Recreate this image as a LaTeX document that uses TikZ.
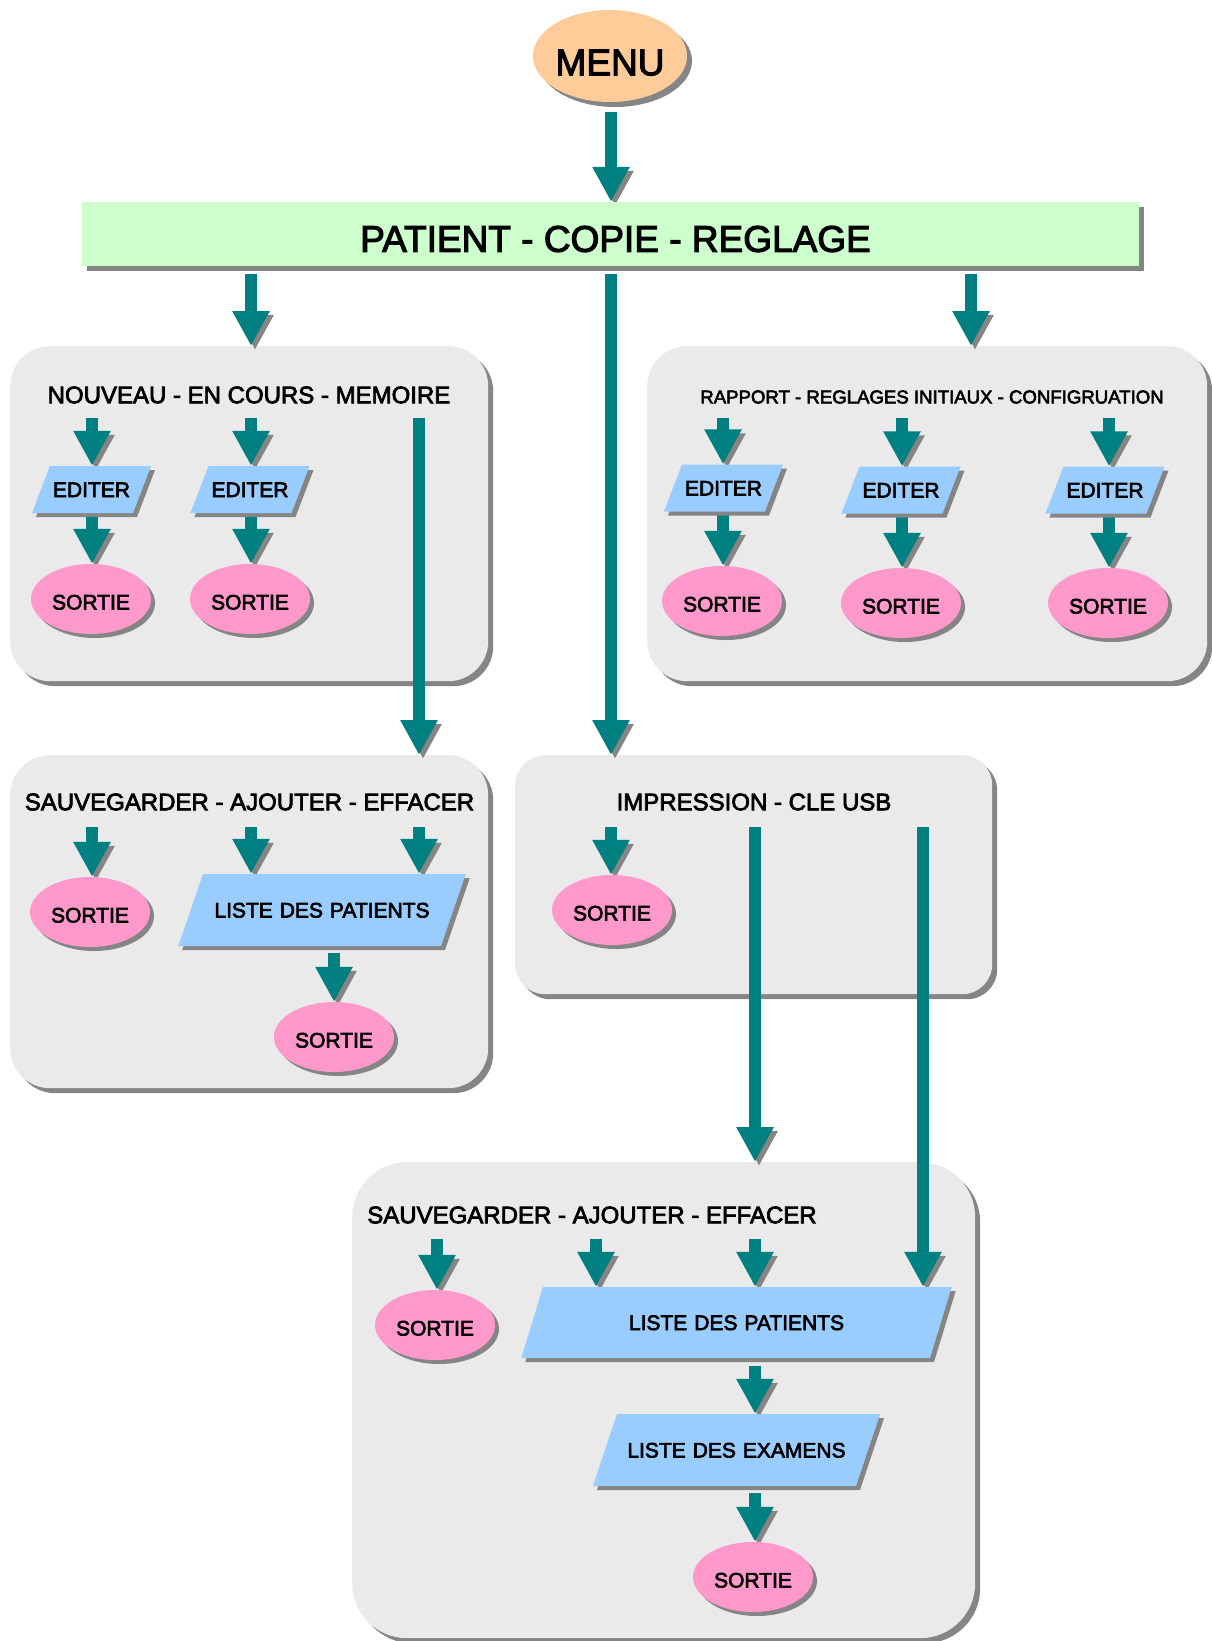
\documentclass[tikz,border=0pt]{standalone}
\usepackage{fontspec}
\setmainfont{Liberation Sans}[FakeBold=3]
\usetikzlibrary{arrows.meta,shapes.geometric,shadows}
\definecolor{arrowteal}{HTML}{008080}
\definecolor{shade}{HTML}{858585}
\definecolor{panelgray}{HTML}{EAEAEA}
\definecolor{barfill}{HTML}{CCFFCC}
\definecolor{menufill}{HTML}{FFCC99}
\definecolor{exitfill}{HTML}{FF99CC}
\definecolor{parafill}{HTML}{99CCFF}
\pgfdeclarelayer{panels}
\pgfdeclarelayer{flows}
\pgfsetlayers{panels,flows,main}
\tikzset{
  shadowed/.style={drop shadow={shadow xshift=#1, shadow yshift=-#1, fill=shade, opacity=1}},
  panel/.style={draw=none, fill=panelgray, rounded corners=#1, shadowed=5pt, inner sep=0pt, anchor=north west},
  menunode/.style={ellipse, fill=menufill, minimum width=144pt, minimum height=92pt, inner sep=0pt,
    shadowed=5pt, font=\fontsize{37}{42}\selectfont, text height=38.5pt, text depth=0pt},
  barnode/.style={rectangle, fill=barfill, minimum width=1057pt, minimum height=64pt, inner sep=0pt,
    shadowed=5pt, font=\fontsize{37}{42}\selectfont, text height=35.5pt, text depth=0pt},
  ttl/.style={inner sep=0pt, font=\fontsize{24}{28}\selectfont},
  ttlsmall/.style={inner sep=0pt, font=\fontsize{18.6}{22}\selectfont},
  exitnode/.style={ellipse, fill=exitfill, minimum width=120pt, minimum height=70pt, inner sep=0pt,
    shadowed=4pt, font=\fontsize{21}{24}\selectfont, text height=21pt, text depth=0pt},
  % #1 = inner body width, #2 = side angle, #3 = vertical padding
  paranode/.style n args={3}{trapezium, trapezium left angle=#2, trapezium right angle=180-#2,
    fill=parafill, inner xsep=0pt, inner ysep=#3, text width=#1, align=center,
    text height=15pt, text depth=0pt, shadowed=4pt, font=\fontsize{21}{24}\selectfont},
  flow/.style={draw=arrowteal, line width=12pt, -{Triangle[width=35pt,length=35pt]},
    preaction={draw=shade, transform canvas={shift={(4pt,-4pt)}}}}
}
\begin{document}
\begin{tikzpicture}[x=1pt,y=-1pt]
\useasboundingbox (0,0) rectangle (1211,1641);
\clip (0,0) rectangle (1211,1641);

% panels
\begin{pgfonlayer}{panels}
\fill[white] (0,0) rectangle (1211,1641);
\node[panel=40pt, minimum width=478pt, minimum height=335pt] (p1) at (10,346) {};
\node[panel=40pt, minimum width=560pt, minimum height=335pt] (p2) at (647,346) {};
\node[panel=40pt, minimum width=478pt, minimum height=333pt] (p3) at (10,755) {};
\node[panel=30pt, minimum width=477pt, minimum height=239pt] (p4) at (515,755) {};
\node[panel=55pt, minimum width=623pt, minimum height=476pt] (p5) at (352,1162) {};
\end{pgfonlayer}

% top
\node[menunode] (menu) at (610,56) {MENU};
\node[barnode] (bar) at (610.5,234) {\hspace*{10pt}PATIENT - COPIE - REGLAGE};

% titles
\node[ttl] (t1) at (249,395) {NOUVEAU - EN COURS - MEMOIRE};
\node[ttlsmall] (t2) at (932,397) {RAPPORT - REGLAGES INITIAUX - CONFIGRUATION};
\node[ttl] (t3) at (249.5,802) {SAUVEGARDER - AJOUTER - EFFACER};
\node[ttl] (t4) at (754,802) {IMPRESSION - CLE USB};
\node[ttl] (t5) at (592,1215) {SAUVEGARDER - AJOUTER - EFFACER};

% panel 1
\node[paranode={83pt}{69}{16pt}] (e11) at (91.5,489.5) {EDITER};
\node[paranode={83pt}{69}{16pt}] (e12) at (250,489.5) {EDITER};
\node[exitnode] (s11) at (91,599) {SORTIE};
\node[exitnode] (s12) at (250,599) {SORTIE};

% panel 2
\node[paranode={83pt}{69}{16pt}] (e21) at (723.5,488) {EDITER};
\node[paranode={83pt}{69}{16pt}] (e22) at (901,490) {EDITER};
\node[paranode={83pt}{69}{16pt}] (e23) at (1105,490) {EDITER};
\node[exitnode] (s21) at (722,601) {SORTIE};
\node[exitnode] (s22) at (901,603) {SORTIE};
\node[exitnode] (s23) at (1108,603) {SORTIE};

% panel 3
\node[exitnode] (s31) at (90,912) {SORTIE};
\node[paranode={238pt}{71}{28.5pt}] (l3) at (322,910) {LISTE DES PATIENTS};
\node[exitnode] (s32) at (334,1037) {SORTIE};

% panel 4
\node[exitnode] (s41) at (612,910) {SORTIE};

% panel 5
\node[exitnode] (s51) at (435,1325) {SORTIE};
\node[paranode={387pt}{73}{28pt}] (l5) at (736.5,1322.5) {LISTE DES PATIENTS};
\node[paranode={239pt}{71.5}{28.5pt}] (x5) at (736.5,1450) {LISTE DES EXAMENS};
\node[exitnode] (s52) at (753,1577) {SORTIE};

% arrow start points
\coordinate (m0) at (611,112);
\coordinate (b1) at (251,274);
\coordinate (b2) at (611,274);
\coordinate (b3) at (971,274);
\coordinate (a11) at (92,418);
\coordinate (a12) at (251,418);
\coordinate (a13) at (419,418);
\coordinate (a21) at (723,418);
\coordinate (a22) at (902,418);
\coordinate (a23) at (1109,418);
\coordinate (a31) at (92,827);
\coordinate (a32) at (251,827);
\coordinate (a33) at (419,827);
\coordinate (a34) at (334,953);
\coordinate (a41) at (611,827);
\coordinate (a42) at (755,827);
\coordinate (a43) at (923,827);
\coordinate (a51) at (437,1239);
\coordinate (a52) at (596,1239);
\coordinate (a53) at (755,1239);
\coordinate (a54) at (755,1366);
\coordinate (a55) at (755,1493);

\begin{pgfonlayer}{flows}
\draw[flow] (m0) -- (m0 |- bar.north);
\draw[flow] (b1) -- (b1 |- p1.north);
\draw[flow] (b2) -- (b2 |- p4.north);
\draw[flow] (b3) -- (b3 |- p2.north);
% panel 1
\draw[flow] (a11) -- (a11 |- e11.north);
\draw[flow] (a12) -- (a12 |- e12.north);
\draw[flow] ([yshift=-2pt]e11.south -| a11) -- (a11 |- s11.north);
\draw[flow] ([yshift=-2pt]e12.south -| a12) -- (a12 |- s12.north);
\draw[flow] (a13) -- (a13 |- p3.north);
% panel 2
\draw[flow] (a21) -- (a21 |- e21.north);
\draw[flow] (a22) -- (a22 |- e22.north);
\draw[flow] (a23) -- (a23 |- e23.north);
\draw[flow] ([yshift=-2pt]e21.south -| a21) -- (a21 |- s21.north);
\draw[flow] ([yshift=-2pt]e22.south -| a22) -- (a22 |- s22.north);
\draw[flow] ([yshift=-2pt]e23.south -| a23) -- (a23 |- s23.north);
% panel 3
\draw[flow] (a31) -- (a31 |- s31.north);
\draw[flow] (a32) -- (a32 |- l3.north);
\draw[flow] (a33) -- (a33 |- l3.north);
\draw[flow] (a34) -- (a34 |- s32.north);
% panel 4
\draw[flow] (a41) -- (a41 |- s41.north);
\draw[flow] (a42) -- (a42 |- p5.north);
\draw[flow] (a43) -- (a43 |- l5.north);
% panel 5
\draw[flow] (a51) -- (a51 |- s51.north);
\draw[flow] (a52) -- (a52 |- l5.north);
\draw[flow] (a53) -- (a53 |- l5.north);
\draw[flow] (a54) -- (a54 |- x5.north);
\draw[flow] (a55) -- (a55 |- s52.north);
\end{pgfonlayer}
\end{tikzpicture}
\end{document}
